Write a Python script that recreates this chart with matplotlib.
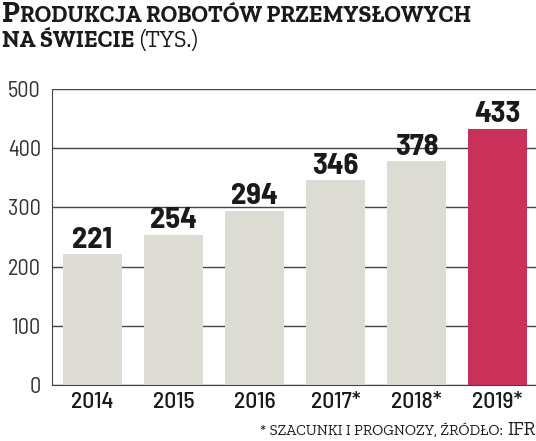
import matplotlib
matplotlib.use("Agg")
import matplotlib.pyplot as plt

years = ["2014", "2015", "2016", "2017*", "2018*", "2019*"]
values = [221, 254, 294, 346, 378, 433]
yticks = [0, 100, 200, 300, 400, 500]

cond = ["Barlow Semi Condensed", "DejaVu Sans"]
slab = ["Zilla Slab", "DejaVu Serif"]

W, H = 536, 441
fig = plt.figure(figsize=(W/100, H/100), dpi=100)
ax = fig.add_axes([52/W, 56/H, 484/W, 296/H])

colors = ["#dcdcd4"] * 5 + ["#c9305a"]
x = list(range(len(years)))
ax.bar(x, values, width=0.73, color=colors, zorder=2)
for xi, v in zip(x, values):
    ax.text(xi, v + 11, str(v), ha="center", va="baseline", fontsize=22,
            fontweight="bold", family=cond, color="#1a1a1a", zorder=3)

ax.set_xlim(-0.5, 5.475)
ax.set_ylim(0, 500)
ax.set_yticks(yticks)
ax.set_yticklabels([str(t) for t in yticks], family=cond, fontsize=16, color="#333")
ax.set_xticks(x)
ax.set_xticklabels(years, family=cond, fontsize=17, fontweight="medium", color="#1a1a1a")
ax.yaxis.grid(True, color="#444", linewidth=1.0, zorder=0)
ax.set_axisbelow(True)
for s in ["top", "right"]:
    ax.spines[s].set_visible(False)
ax.spines["left"].set_color("#444")
ax.spines["bottom"].set_color("#444")
ax.tick_params(axis="y", length=0, pad=8)
ax.tick_params(axis="x", length=0, pad=5)

renderer = fig.canvas.get_renderer()

def runs(x0, ybase, parts, ha="left"):
    # draw consecutive text pieces on one baseline (simulated small caps)
    texts = []
    xpos = x0
    for txt, size, weight in parts:
        t = fig.text(xpos / W, 1 - ybase / H, txt, fontsize=size, fontweight=weight,
                     family=slab, color="#1a1a1a", ha="left", va="baseline")
        bb = t.get_window_extent(renderer=renderer)
        xpos = bb.x1
        texts.append(t)
    if ha == "right":
        shift = x0 - xpos
        for t in texts:
            px, py = t.get_position()
            t.set_position((px + shift / W, py))

runs(2, 22, [("P", 21.5, "bold"), ("RODUKCJA ROBOTÓW PRZEMYSŁOWYCH", 16.7, "bold")])
runs(2, 47, [("NA ŚWIECIE ", 16.7, "bold"), ("(TYS.)", 16.7, "normal")])

runs(W - 1, 435, [("* SZACUNKI I PROGNOZY, ŹRÓDŁO: ", 10.9, "normal"), ("IFR", 13.7, "normal")], ha="right")

fig.savefig("out.png", dpi=100)
